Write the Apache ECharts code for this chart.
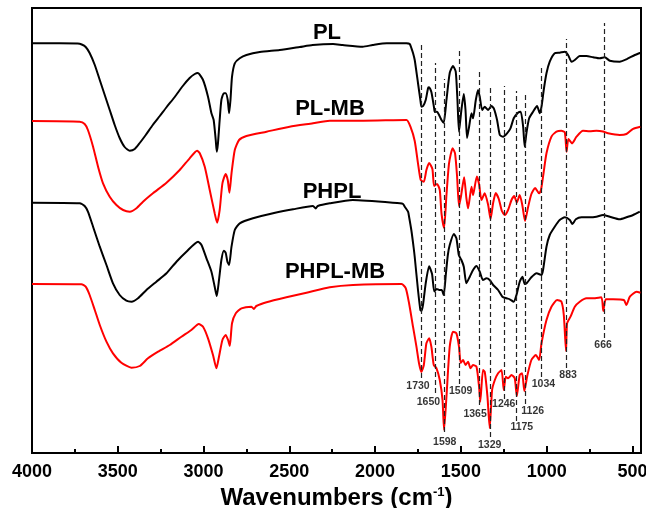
<!DOCTYPE html>
<html>
<head>
<meta charset="utf-8">
<script src="https://cdn.jsdelivr.net/npm/echarts@6/dist/echarts.min.js"></script>
<style>
  html, body { margin: 0; padding: 0; background: #fff; }
  #chart { width: 646px; height: 508px; }
</style>
</head>
<body>
<div id="chart"></div>
<script>
// FTIR spectra, [wavenumber cm-1, offset transmittance a.u.]
var PL = [
  [4000,409.7],[3839,409.7],[3734,409.5],[3710,408.5],[3687,406],[3664,400],[3634,388],[3605,373],
  [3576,358],[3547,343],[3518,328],[3489,315],[3460,306],[3430,302.3],[3401,304],[3372,310],
  [3337,318],[3296,328],[3255,337],[3215,346],[3168,356],[3121,367],[3081,375],[3051,379],
  [3034,380],[3003,373],[2974,356.3],[2954,339.7],[2941,333],[2929,313],[2923,301.3],[2916,309.7],
  [2906,333],[2896,353],[2882,359.7],[2871,359.7],[2859,353],[2851,339.7],[2843,353],[2834,376.3],
  [2818,389.7],[2789,394.7],[2750,398],[2672,401],[2556,403],[2439,406],[2364,408],[2245,409],
  [2189,408],[2072,406.3],[2014,408],[1932,409.7],[1817,409.7],[1798,409],[1788,404.7],[1779,400],
  [1769,393],[1750,370],[1736,353],[1730,346.3],[1720,347],[1705,353],[1691,365],[1685,365.7],
  [1672,361],[1656,345],[1652,341],[1639,341.3],[1627,338],[1613,333],[1600,330.3],[1584,353],
  [1565,380],[1546,387],[1530,381.3],[1520,353],[1511,321.3],[1497,343],[1483,359],[1473,343],
  [1464,315],[1452,326.3],[1438,339.7],[1429,334.7],[1413,353],[1400,363],[1390,356.3],[1376,343],
  [1361,346.3],[1341,343],[1322,347],[1308,344.7],[1289,333],[1273,318],[1254,316.3],[1231,319.7],
  [1211,324.7],[1192,334.7],[1167,340.3],[1151,341.3],[1137,326.3],[1128,306.3],[1118,319.7],
  [1102,334.7],[1079,341.3],[1056,347],[1040,339.7],[1030,346.3],[1017,363],[1001,379.7],[982,391.3],
  [953,399.7],[924,400.3],[894,401.3],[875,398],[855,391.3],[836,393],[807,397],[768,397],
  [729,395.7],[690,394.7],[661,395.7],[632,392.3],[574,391.3],[535,393.7],[486,398],[452,400.3]
];
var PL_MB = [
  [4000,332],[3722,331.3],[3693,329],[3674,323],[3644,306.3],[3615,286.3],[3586,269.7],[3547,256.3],
  [3508,248],[3469,243],[3430,241.3],[3391,244.7],[3353,251.3],[3295,259.7],[3216,270.3],[3139,283],
  [3081,294.7],[3038,302.3],[3022,299.7],[2993,286.3],[2964,263],[2935,239.7],[2921,230.3],[2906,243],
  [2890,269.7],[2871,279],[2859,273],[2849,260.3],[2837,279.7],[2818,303],[2793,313],[2750,317],
  [2633,321.3],[2498,326.3],[2362,329.7],[2264,332.3],[2070,332.3],[1817,333],[1794,326.3],[1769,312],
  [1750,289.7],[1734,273],[1716,271.3],[1701,283],[1685,290],[1666,284],[1656,267],[1639,269],
  [1623,263],[1613,239.7],[1598,225],[1584,258],[1569,289.7],[1548,304.7],[1534,299.7],[1522,276.3],
  [1511,247],[1499,257],[1481,275.7],[1468,255],[1458,244.7],[1438,266.3],[1429,258],[1407,276.5],
  [1394,269],[1380,253],[1361,259.7],[1341,248],[1327,234],[1312,250],[1297,260],[1279,254],
  [1261,242],[1244,238],[1225,243],[1205,253],[1189,257],[1174,250.5],[1157,258],[1142,248],
  [1126,232],[1108,246],[1089,259],[1067,265],[1044,259.7],[1033,263],[1018,280],[1001,299.7],
  [972,316.3],[943,321.3],[914,322.2],[894,320.5],[884,301.3],[873,314],[852,309.7],[826,316.3],
  [788,322.2],[749,321.8],[710,322.2],[671,321.5],[642,319.7],[574,318],[535,319],[496,324.2],[454,326.3]
];
var PHPL = [
  [4000,250.3],[3722,249.7],[3693,247],[3674,241.3],[3644,226.3],[3605,206.3],[3566,188],[3528,169.7],
  [3489,158],[3450,152.3],[3420,151.3],[3382,154.7],[3333,163],[3275,171.3],[3216,179.7],[3158,191.3],
  [3100,201.3],[3032,211.3],[3012,208],[2983,194.7],[2954,181.3],[2935,166.3],[2923,157],[2910,173],
  [2896,193],[2882,202.3],[2871,200.3],[2861,191.3],[2851,188],[2837,206.3],[2818,223],[2789,229.7],
  [2712,234.7],[2595,239.7],[2478,243.7],[2362,247],[2346,244.5],[2334,247],[2264,249.7],[2130,253],
  [1856,249.7],[1837,249],[1827,246.3],[1808,241.3],[1802,236.3],[1788,222],[1775,205],[1769,196],
  [1750,163],[1736,143],[1730,142],[1720,149],[1705,169.7],[1685,186.7],[1668,179],[1655,161.5],
  [1641,164],[1626,163],[1612,163],[1600,158],[1588,178],[1576,198],[1565,208],[1541,219],
  [1526,214.7],[1512,198],[1497,193],[1483,186.3],[1468,169.7],[1448,176.3],[1429,183],[1409,187],
  [1390,181.3],[1371,173],[1351,174.7],[1332,173],[1312,168],[1283,163],[1258,156.3],[1234,154.7],
  [1215,153.7],[1192,151.3],[1176,158],[1157,171.3],[1141,176.3],[1128,169],[1114,170.3],[1089,175.7],
  [1059,179.7],[1030,178],[1021,183],[1001,206.3],[982,218],[953,226.3],[924,233],[894,235.7],
  [865,233],[850,229],[830,233.7],[797,235.7],[749,235.7],[710,236.3],[671,238],[632,236.3],
  [574,233.7],[535,235.7],[496,238],[457,241.3]
];
var PHPL_MB = [
  [4000,169],[3712,168.7],[3687,166.3],[3664,158],[3634,143],[3605,128],[3566,111.3],[3528,99.7],
  [3479,90.3],[3420,85.3],[3372,87],[3324,94.7],[3265,101.3],[3197,108],[3129,116.3],[3071,123],
  [3028,129],[3003,126.3],[2974,114.7],[2945,98],[2925,84.7],[2910,96.3],[2890,113],[2871,118],
  [2857,113],[2847,107],[2834,129.7],[2812,139.7],[2779,144.7],[2721,146.3],[2707,144],[2692,147],
  [2633,150.7],[2517,155.7],[2400,160.3],[2264,165.7],[2129,168],[1846,169],[1821,164.7],[1802,149.7],
  [1779,126.3],[1759,106.3],[1744,89.7],[1730,81],[1716,88],[1701,109.7],[1685,114.7],[1672,106.3],
  [1658,88],[1642,84.7],[1623,73],[1607,53],[1598,23],[1584,56.3],[1565,106.3],[1546,121.3],
  [1526,119.7],[1511,106.3],[1501,90],[1487,93],[1473,88],[1458,91.3],[1444,84.7],[1429,88],
  [1409,86.3],[1394,66.3],[1387,51.3],[1371,83],[1361,81.3],[1345,56.3],[1332,25],[1318,63],
  [1302,73],[1283,79.7],[1263,83],[1250,63],[1238,76.3],[1225,74.7],[1205,78],[1186,74.7],
  [1174,57],[1157,78],[1143,79.7],[1130,62],[1114,76.3],[1089,93],[1063,98],[1044,93],
  [1030,109.7],[1001,133],[972,146.3],[939,153],[914,151.3],[900,138],[887,102],[881,129.7],
  [861,136.3],[836,146.3],[807,151.3],[768,154.7],[729,154.7],[681,155.7],[670,142],[655,153.7],
  [613,153.7],[550,153],[535,148],[515,156.3],[476,161.3],[453,160.3]
];

// marked bands
var peakText = ['1730','1650','1598','1509','1365','1329','1246','1175','1126','1034','883','666'];
var peakPos = [1730, 1650, 1598, 1509, 1390, 1329, 1246, 1175, 1126, 1034, 883, 666];
var dashTop = [411, 390, 374, 404, 382, 368, 367, 362, 360, 388, 414, 430];
var dashBottom = [75, 60, 21, 69, 48, 16, 54, 32, 49, 76, 85, 115];
var labelX = [1750, 1689, 1594, 1501, 1417, 1332, 1250, 1145, 1081, 1019, 875, 671];
var labelY = [67, 51, 11, 62, 39, 8, 49, 26, 42, 69, 78, 108];

var names = ['PL', 'PL-MB', 'PHPL', 'PHPL-MB'];

var chart = echarts.init(document.getElementById('chart'), null, { width: 646, height: 508 });
var font = 'Arial, "Liberation Sans", sans-serif';

function curve(name, data, color, extra) {
  var s = {
    name: name,
    type: 'line',
    data: data,
    showSymbol: false,
    smooth: 0.2,
    lineStyle: { color: color, width: 2 },
    z: 3
  };
  return Object.assign(s, extra || {});
}

var option = {
  animation: false,
  backgroundColor: '#fff',
  grid: {
    left: 32, right: 5, top: 8, bottom: 55,
    containLabel: false,
    outerBoundsMode: 'none',
    show: true, borderColor: '#000', borderWidth: 2, backgroundColor: 'transparent'
  },
  xAxis: {
    type: 'value',
    min: 450,
    max: 4000,
    inverse: true,
    splitNumber: 7,
    name: 'Wavenumbers (cm{sup|-1})',
    nameLocation: 'middle',
    nameGap: 26,
    nameTextStyle: {
      color: '#000', fontSize: 24, fontWeight: 'bold', fontFamily: font,
      rich: {
        sup: { fontSize: 13, fontWeight: 'bold', fontFamily: font, color: '#000', verticalAlign: 'top', padding: [0, 0, 8, 0] }
      }
    },
    axisLine: { lineStyle: { color: '#000', width: 2 } },
    axisTick: { inside: true, length: 7, lineStyle: { color: '#000', width: 2 } },
    minorTick: { show: true, splitNumber: 2, length: 4, lineStyle: { color: '#000', width: 2 } },
    axisLabel: {
      color: '#000', fontSize: 18, fontWeight: 'bold', fontFamily: font, margin: 10,
      formatter: function (v) { return v % 500 === 0 ? String(v) : ''; }
    },
    splitLine: { show: false }
  },
  yAxis: {
    type: 'value', min: 0, max: 445, show: false
  },
  graphic: [
    { type: 'text', x: 327, y: 33, style: { text: names[0], font: 'bold 22px ' + font, fill: '#000', align: 'center', verticalAlign: 'middle' } },
    { type: 'text', x: 330, y: 109, style: { text: names[1], font: 'bold 22px ' + font, fill: '#000', align: 'center', verticalAlign: 'middle' } },
    { type: 'text', x: 332, y: 192, style: { text: names[2], font: 'bold 22px ' + font, fill: '#000', align: 'center', verticalAlign: 'middle' } },
    { type: 'text', x: 335, y: 272, style: { text: names[3], font: 'bold 22px ' + font, fill: '#000', align: 'center', verticalAlign: 'middle' } }
  ],
  series: [
    curve(names[0], PL, '#000', {
      markLine: {
        silent: true,
        symbol: ['none', 'none'],
        label: { show: false },
        lineStyle: { type: [5, 3], color: '#222', width: 1.2 },
        data: peakPos.map(function (w, i) {
          return [{ coord: [w, dashBottom[i]] }, { coord: [w, dashTop[i]] }];
        })
      }
    }),
    curve(names[1], PL_MB, '#f00'),
    curve(names[2], PHPL, '#000'),
    curve(names[3], PHPL_MB, '#f00'),
    {
      type: 'scatter',
      symbolSize: 1,
      itemStyle: { color: 'rgba(0,0,0,0)' },
      silent: true,
      data: labelX.map(function (x, i) { return [x, labelY[i]]; }),
      label: {
        show: true, position: 'inside', color: '#000', fontSize: 10.5, fontWeight: 'bold', fontFamily: font,
        formatter: function (p) { return peakText[p.dataIndex]; }
      },
      z: 4
    }
  ]
};

chart.setOption(option);
</script>
</body>
</html>
